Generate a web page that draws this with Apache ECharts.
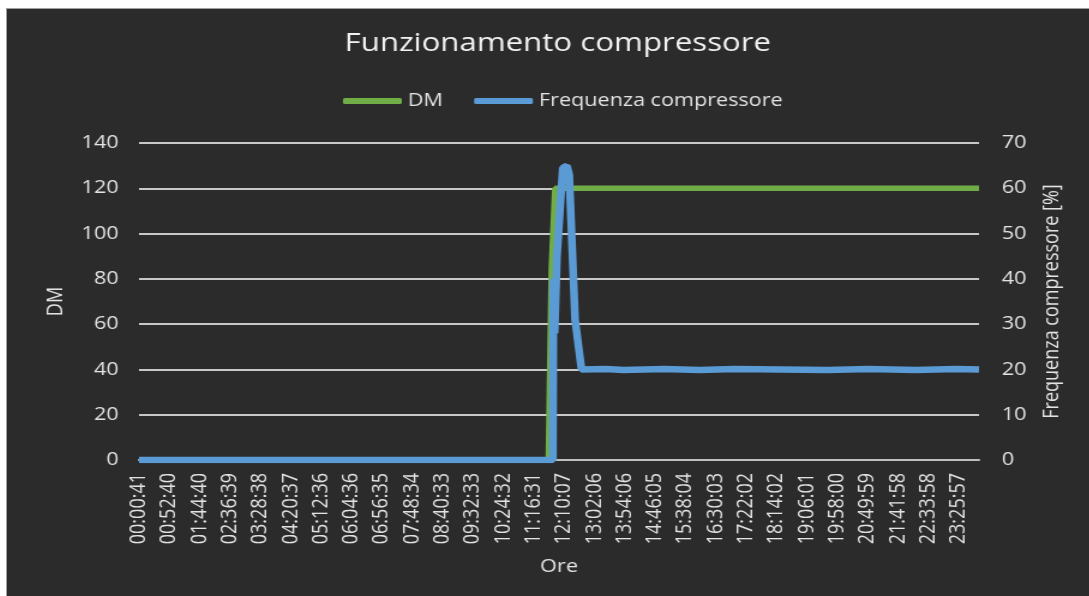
<!DOCTYPE html>
<html>
<head>
<meta charset="utf-8">
<script src="https://cdn.jsdelivr.net/npm/echarts@6/dist/echarts.min.js"></script>
<style>
    html, body { margin: 0; padding: 0; background: #ffffff; overflow: hidden; }
    #frame {
        position: absolute; left: 6px; top: 8px;
        width: 1083px; height: 588px;
        border-left: 1px solid #a0a0a0; border-top: 1px solid #a0a0a0;
        background: #2b2b2b; overflow: hidden;
    }
    /* the reference picture is stretched sideways, so is this one */
    #chart {
        width: 901px; height: 588px;
        transform: scaleX(1.2); transform-origin: 0 0;
    }
</style>
</head>
<body>
<div id="frame"><div id="chart"></div></div>
<script>
    // one sample every ~60 s, a tick label every 52 samples
    var sampleCount = 1440;
    var sampleStep = 52;

    var tickLabels = ['00:00:41', '00:52:40', '01:44:40', '02:36:39', '03:28:38', '04:20:37', '05:12:36',
        '06:04:36', '06:56:35', '07:48:34', '08:40:33', '09:32:33', '10:24:32', '11:16:31', '12:10:07',
        '13:02:06', '13:54:06', '14:46:05', '15:38:04', '16:30:03', '17:22:02', '18:14:02', '19:06:01',
        '19:58:00', '20:49:59', '21:41:58', '22:33:58', '23:25:57'];

    var seriesNames = ['DM', 'Frequenza compressore'];

    // [sample index, DM]
    var dmPoints = [[0, 0], [702, 0], [707, 84], [713, 120], [1439, 120]];

    // [sample index, frequenza %]
    var freqPoints = [[0, 0], [709, 0], [710, 40], [712, 28], [716, 45], [721, 55], [726, 64.5],
        [733, 65], [737, 63], [747, 31], [758, 20], [800, 20.1], [830, 19.9], [900, 20.1],
        [960, 19.9], [1020, 20.1], [1100, 20], [1180, 19.9], [1250, 20.1], [1330, 19.9],
        [1400, 20.1], [1439, 20]];

    var font = '"Open Sans", "Noto Sans", sans-serif';
    var textColor = '#e3e3e3';

    var chart = echarts.init(document.getElementById('chart'));

    var option = {
        backgroundColor: '#2b2b2b',
        animation: false,
        title: {
            text: 'Funzionamento compressore',
            left: 454,
            textAlign: 'center',
            top: 17,
            textStyle: {fontFamily: font, fontSize: 26, fontWeight: 'normal', color: '#f2f2f2'}
        },
        legend: {
            data: seriesNames,
            icon: 'roundRect',
            left: 275,
            top: 78,
            itemWidth: 49,
            itemHeight: 6,
            itemGap: 26,
            textStyle: {fontFamily: font, fontSize: 18, color: textColor}
        },
        grid: {left: 110, right: 91, top: 134, bottom: 137},
        xAxis: {
            type: 'value',
            min: 0,
            max: sampleCount - 1,
            interval: sampleStep,
            name: 'Ore',
            nameLocation: 'middle',
            nameGap: 98,
            nameTextStyle: {fontFamily: font, fontSize: 18, color: textColor},
            axisLine: {lineStyle: {color: '#bfbfbf', width: 2}},
            axisTick: {show: false},
            splitLine: {show: false},
            axisLabel: {
                rotate: 90,
                margin: 13,
                fontFamily: font,
                fontSize: 18,
                color: textColor,
                formatter: function (v) {
                    var i = v / sampleStep;
                    return tickLabels[i] || '';
                }
            }
        },
        yAxis: [{
            type: 'value',
            min: 0,
            max: 140,
            interval: 20,
            name: 'DM',
            nameLocation: 'middle',
            nameGap: 60,
            nameTextStyle: {fontFamily: font, fontSize: 18, color: textColor},
            axisLine: {show: false},
            axisTick: {show: false},
            axisLabel: {margin: 17, fontFamily: font, fontSize: 18, color: textColor},
            splitLine: {lineStyle: {color: '#c8c8c8', width: 2}}
        }, {
            type: 'value',
            min: 0,
            max: 70,
            interval: 10,
            name: 'Frequenza compressore [%]',
            nameLocation: 'middle',
            nameGap: 52,
            nameTextStyle: {fontFamily: font, fontSize: 18, color: textColor},
            axisLine: {show: false},
            axisTick: {show: false},
            axisLabel: {margin: 19, fontFamily: font, fontSize: 18, color: textColor},
            splitLine: {show: false}
        }],
        series: [{
            name: seriesNames[0],
            type: 'line',
            yAxisIndex: 0,
            symbol: 'none',
            color: '#70ad47',
            lineStyle: {width: 5.5},
            data: dmPoints
        }, {
            name: seriesNames[1],
            type: 'line',
            yAxisIndex: 1,
            symbol: 'none',
            color: '#5b9bd5',
            lineStyle: {width: 6.5},
            data: freqPoints
        }]
    };

    chart.setOption(option);
</script>
</body>
</html>
